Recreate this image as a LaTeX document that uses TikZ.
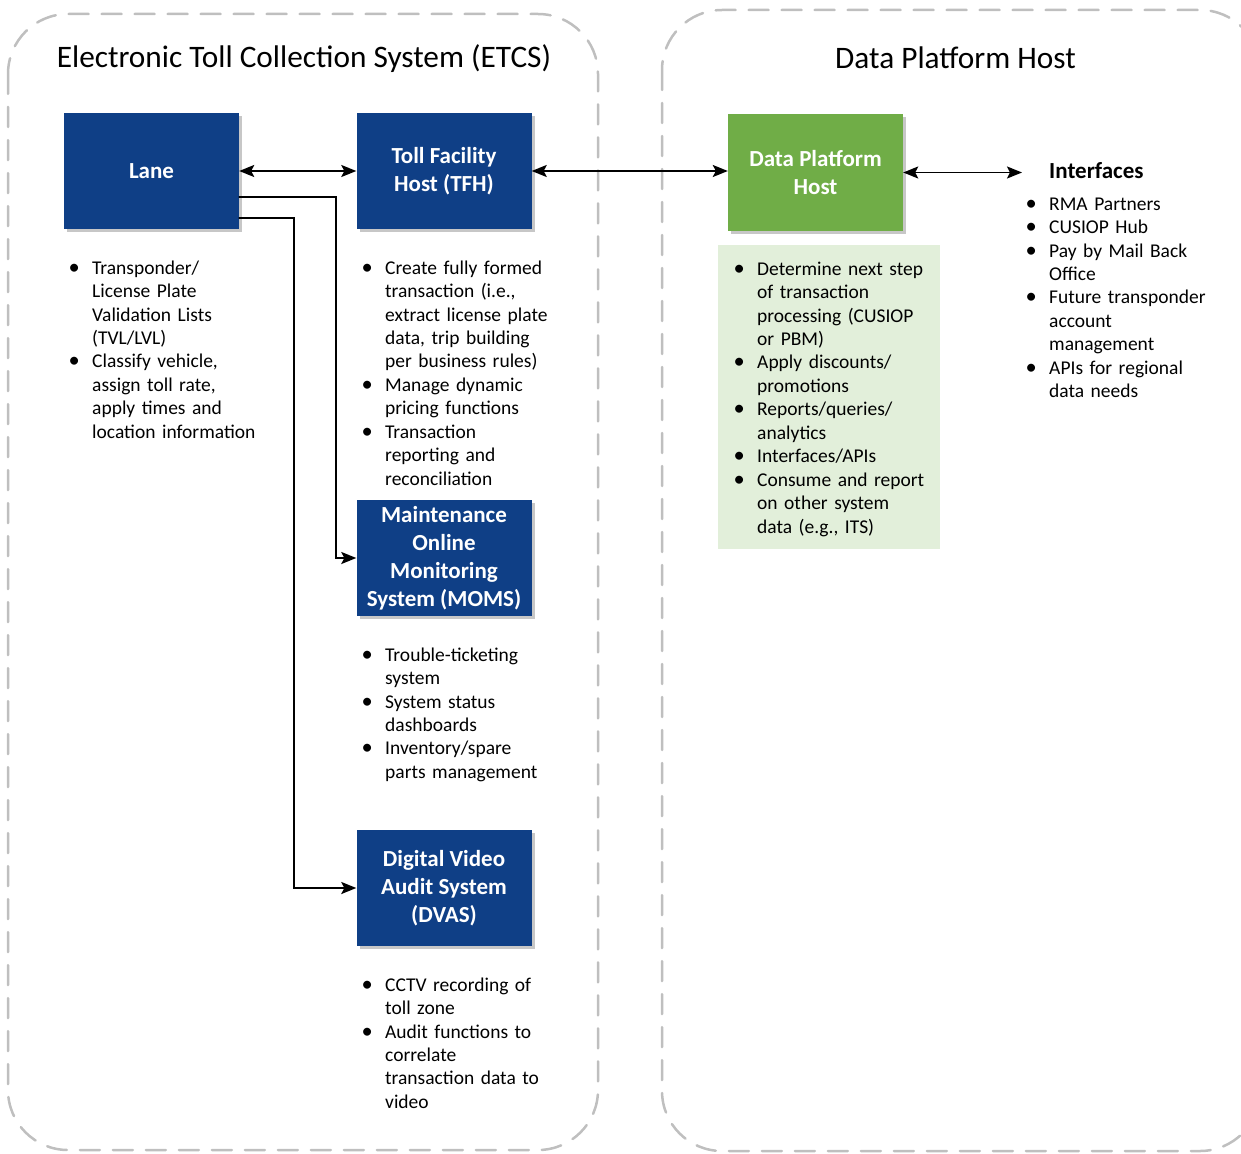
\documentclass[tikz,border=0pt]{standalone}
\usepackage{fontspec}
\setmainfont{Carlito}
\usepackage{xcolor}
\usepackage{tikz}
\usetikzlibrary{arrows.meta, calc, shadows}
\definecolor{etcsBlue}{RGB}{15, 63, 134}
\definecolor{hostGreen}{RGB}{112, 173, 71}
\definecolor{panelGreen}{RGB}{226, 239, 218}
\definecolor{frameGray}{RGB}{191, 191, 191}
\tikzset{
	frame/.style={draw=frameGray, line width=2.5pt, dash pattern=on 20pt off 13pt, rounded corners=60pt},
	bluebox/.style={fill=etcsBlue, text=white, minimum width=175pt, minimum height=116pt, inner sep=0pt, align=center,
		font=\bfseries\fontsize{23}{28}\selectfont, drop shadow={shadow xshift=3pt, shadow yshift=-3pt, fill=black, opacity=0.22}},
	greenbox/.style={bluebox, fill=hostGreen},
	greenpanel/.style={fill=panelGreen, minimum width=222pt, minimum height=304pt, inner sep=0pt},
	blist/.style={text width=240pt, inner sep=0pt, anchor=north west, font=\fontsize{19.5}{23.45}\selectfont},
	title/.style={font=\fontsize{31.3}{37}\selectfont},
	link/.style={line width=1.8pt, >={Stealth[length=15pt, width=12pt, inset=3pt]}}
}
\newcommand{\bitem}[1]{\par\noindent\hangindent=19pt\hangafter=1\makebox[19pt][l]{\makebox[2pt]{\scalebox{1.15}{\textbullet}}}\strut{\let\\\newline#1}\par}

\begin{document}
\begin{tikzpicture}[x=1pt, y=-1pt, line cap=round]
	\useasboundingbox (0,0) rectangle (1241,1153);
	\clip (0,0) rectangle (1241,1153);
	% \draw[gray!30] (0,0) grid[step=50pt] (1241,1153);

	% the two system frames
	\draw[frame] (8,14) rectangle (598,1150);
	\draw[frame] (662,10) rectangle (1260,1151);
	\node[title] (etcstitle) at (304,59) {Electronic Toll Collection System (ETCS)};
	\node[title] (hosttitle) at (955.5,58) {Data Platform Host};

	% ETCS boxes
	\node[bluebox] (lane) at (151.5,171) {Lane};
	\node[bluebox] (tfh) at (444,171) {Toll Facility\\Host (TFH)};
	\node[bluebox] (moms) at (444,558) {Maintenance\\Online\\Monitoring\\System (MOMS)};
	\node[bluebox] (dvas) at (444,888) {Digital Video\\Audit System\\(DVAS)};

	% data platform host
	\node[greenbox] (dph) at (815.5,172.5) {Data Platform\\Host};
	\node[greenpanel, anchor=north west] (dpbg) at (718,245) {};
	\node[anchor=west, inner sep=0pt, font=\bfseries\fontsize{23}{28}\selectfont] (ifhead) at (1049,171) {Interfaces};
	\coordinate (ifend) at (1022,172.5);

	% connectors
	\draw[link, <->] (lane.east) -- (tfh.west);
	\draw[link, <->] (tfh.east) -- (tfh.east -| dph.west);
	\draw[link, <->] (dph.east) -- (ifend);
	\draw[link, ->] ([yshift=-26pt]lane.east) -| ([xshift=-20pt]moms.west) -- (moms.west);
	\draw[link, ->] ([yshift=-47pt]lane.east) -| ([xshift=-62pt]dvas.west) -- (dvas.west);

	% bullet lists
	\node[blist] (lanelist) at (73,250.5) {%
		\bitem{Transponder/\\License Plate\\Validation Lists\\(TVL/LVL)}
		\bitem{Classify vehicle,\\assign toll rate,\\apply times and\\location information}};
	\node[blist] (tfhlist) at (366,250.5) {%
		\bitem{Create fully formed\\transaction (i.e.,\\extract license plate\\data, trip building\\per business rules)}
		\bitem{Manage dynamic\\pricing functions}
		\bitem{Transaction\\reporting and\\reconciliation}};
	\node[blist] (momslist) at (366,637.5) {%
		\bitem{Trouble-ticketing\\system}
		\bitem{System status\\dashboards}
		\bitem{Inventory/spare\\parts management}};
	\node[blist] (dvaslist) at (366,967.5) {%
		\bitem{CCTV recording of\\toll zone}
		\bitem{Audit functions to\\correlate\\transaction data to\\video}};
	\node[blist] (dphlist) at (738,251.5) {%
		\bitem{Determine next step\\of transaction\\processing (CUSIOP\\or PBM)}
		\bitem{Apply discounts/\\promotions}
		\bitem{Reports/queries/\\analytics}
		\bitem{Interfaces/APIs}
		\bitem{Consume and report\\on other system\\data (e.g., ITS)}};
	\node[blist] (iflist) at (1030,186.5) {%
		\bitem{RMA Partners}
		\bitem{CUSIOP Hub}
		\bitem{Pay by Mail Back\\Office}
		\bitem{Future transponder\\account\\management}
		\bitem{APIs for regional\\data needs}};

\end{tikzpicture}
\end{document}
